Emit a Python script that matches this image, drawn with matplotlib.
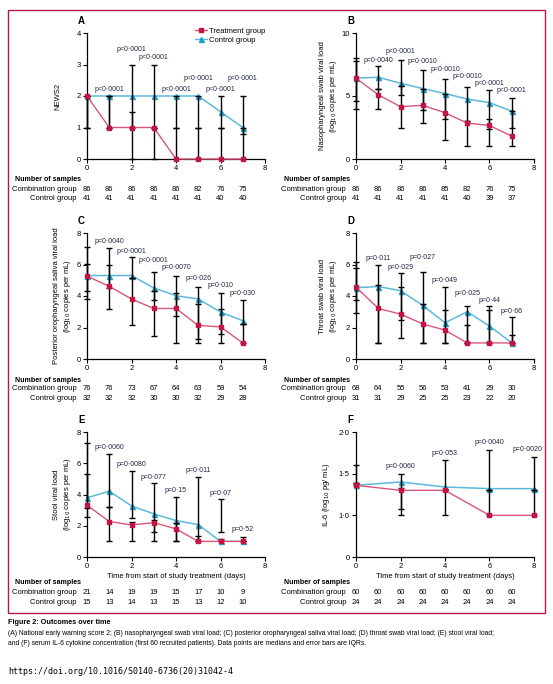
import matplotlib
matplotlib.use("Agg")
import matplotlib.pyplot as plt
from matplotlib.lines import Line2D
from matplotlib.patches import Rectangle
from matplotlib.transforms import blended_transform_factory

plt.rcParams['font.family'] = ['Liberation Sans Narrow', 'Liberation Sans', 'DejaVu Sans']
plt.rcParams['font.size'] = 5.5

W, H = 553, 684
RED, RED_LINE = '#c41442', '#d9557a'
CYAN, CYAN_LINE = '#1fa0c8', '#5cb9dc'
PCOL = '#1f2640'

days = [0, 1, 2, 3, 4, 5, 6, 7]
il6_days = [0, 2, 4, 6, 8]

# A: NEWS2
a_t_med = [2, 1, 1, 1, 0, 0, 0, 0]
a_t_lo = [1, 1, 0, 0, 0, 0, 0, 0]
a_t_hi = [2, 2, 1.5, 1, 1, 1, 1, 1]
a_c_med = [2, 2, 2, 2, 2, 2, 1.5, 1]
a_c_lo = [1, 1, 1, 1, 1, 1, 1, 0.8]
a_c_hi = [2, 2, 3, 3, 2, 2, 2, 2]
a_p = ['p<0·0001'] * 7
a_comb = [86, 86, 86, 86, 86, 82, 76, 75]
a_ctrl = [41, 41, 41, 41, 41, 41, 40, 40]

# B: nasopharyngeal swab
b_t_med = [6.41, 5.10, 4.15, 4.26, 3.67, 2.85, 2.66, 1.81]
b_t_lo = [3.99, 3.99, 2.50, 2.82, 1.54, 1.06, 1.06, 1.06]
b_t_hi = [7.74, 5.59, 5.77, 5.59, 5.19, 3.03, 3.14, 3.83]
b_c_med = [6.41, 6.49, 6.01, 5.59, 5.19, 4.76, 4.47, 3.80]
b_c_lo = [4.57, 5.59, 5.11, 3.86, 3.19, 3.03, 2.39, 2.45]
b_c_hi = [8.00, 7.42, 7.82, 7.05, 6.33, 5.69, 5.45, 4.87]
b_p = ['p=0·0040', 'p<0·0001', 'p=0·0010', 'p=0·0010', 'p=0·0010', 'p<0·0001', 'p<0·0001']
b_comb = [86, 86, 86, 86, 85, 82, 76, 75]
b_ctrl = [41, 41, 41, 41, 41, 40, 39, 37]

# C: posterior oropharyngeal saliva
c_t_med = [5.26, 4.62, 3.81, 3.21, 3.21, 2.13, 2.04, 1.02]
c_t_lo = [3.81, 3.17, 2.13, 1.45, 1.02, 1.02, 1.02, 1.02]
c_t_hi = [6.02, 5.96, 5.13, 4.32, 4.17, 3.51, 3.15, 2.21]
c_c_med = [5.30, 5.30, 5.30, 4.51, 4.02, 3.81, 2.98, 2.43]
c_c_lo = [4.30, 4.51, 5.13, 3.72, 2.70, 1.30, 1.60, 2.21]
c_c_hi = [7.09, 7.02, 6.45, 5.51, 5.30, 4.60, 4.21, 3.72]
c_p = ['p=0·0040', 'p<0·0001', 'p<0·0001', 'p=0·0070', 'p=0·026', 'p=0·010', 'p=0·030']
c_comb = [76, 76, 73, 67, 64, 63, 59, 54]
c_ctrl = [32, 32, 32, 30, 30, 32, 29, 28]

# D: throat swab
d_t_med = [4.57, 3.21, 2.85, 2.23, 1.83, 1.02, 1.02, 1.02]
d_t_lo = [2.89, 1.02, 1.36, 1.02, 1.02, 1.02, 1.02, 1.02]
d_t_hi = [5.77, 4.72, 4.55, 3.51, 3.11, 2.13, 3.11, 1.53]
d_c_med = [4.53, 4.60, 4.34, 3.40, 2.30, 3.00, 2.09, 1.02]
d_c_lo = [3.74, 1.02, 2.47, 1.02, 1.02, 1.02, 1.02, 1.02]
d_c_hi = [6.15, 5.94, 5.43, 5.51, 4.55, 3.38, 3.34, 2.64]
d_p = ['p=0·011', 'p=0·029', 'p=0·027', 'p=0·049', 'p=0·025', 'p=0·44', 'p=0·66']
d_comb = [68, 64, 55, 56, 53, 41, 29, 30]
d_ctrl = [31, 31, 29, 25, 25, 23, 22, 20]

# E: stool
e_t_med = [3.32, 2.27, 2.05, 2.20, 1.80, 1.00, 1.00, 1.00]
e_t_lo = [3.12, 1.00, 1.00, 1.00, 1.00, 1.00, 1.00, 1.00]
e_t_hi = [5.33, 3.19, 2.27, 2.37, 2.20, 1.33, 1.13, 1.00]
e_c_med = [3.79, 4.21, 3.27, 2.76, 2.33, 2.07, 1.00, 1.00]
e_c_lo = [2.59, 3.19, 2.52, 1.60, 1.00, 1.00, 1.60, 1.00]
e_c_hi = [7.29, 6.59, 5.48, 4.73, 3.87, 5.11, 3.70, 1.26]
e_p = ['p=0·0060', 'p=0·0080', 'p=0·077', 'p=0·15', 'p=0·011', 'p=0·07', 'p=0·52']
e_comb = [21, 14, 19, 19, 15, 17, 10, 9]
e_ctrl = [15, 13, 14, 13, 15, 13, 12, 10]

# F: IL-6
f_t_med = [1.36, 1.30, 1.30, 1.00, 1.00]
f_t_lo = [1.36, 1.00, 1.00, 1.00, 1.00]
f_t_hi = [1.39, 1.33, 1.30, 1.30, 1.30]
f_c_med = [1.36, 1.40, 1.34, 1.32, 1.32]
f_c_lo = [1.39, 1.08, 1.30, 1.30, 1.30]
f_c_hi = [1.61, 1.50, 1.66, 1.79, 1.70]
f_p = ['p=0·0060', 'p=0·053', 'p=0·0040', 'p=0·0020']
f_comb = [60] * 8
f_ctrl = [24] * 8

fig = plt.figure(figsize=(W / 100, H / 100), dpi=100)


def panel(box, letter, x, t_med, t_lo, t_hi, c_med, c_lo, c_hi, ylim, yticks, ylabel,
          ylab_x, pvals, p_x, p_y, comb, ctrl, yticklabels=None, xlabel=False, legend=False):
    l, t, w, h = box
    ax = fig.add_axes([l / W, 1 - (t + h) / H, w / W, h / H])
    ax.plot(x, c_med, color=CYAN_LINE, lw=1.1, zorder=2, clip_on=False)
    ax.plot(x, c_med, ls='none', marker='^', ms=3.6, color=CYAN, zorder=2, clip_on=False)
    for lo, hi in [(t_lo, t_hi), (c_lo, c_hi)]:
        ax.vlines(x, lo, hi, color='black', lw=1, zorder=3, clip_on=False)
        ax.plot(x, lo, ls='none', marker='_', ms=5, mew=1, color='black', zorder=3, clip_on=False)
        ax.plot(x, hi, ls='none', marker='_', ms=5, mew=1, color='black', zorder=3, clip_on=False)
    ax.plot(x, t_med, color=RED_LINE, lw=1.0, zorder=4, clip_on=False)
    ax.plot(x, t_med, ls='none', marker='s', ms=3.4, color=RED, zorder=5, clip_on=False)

    if legend:
        hs = [Line2D([], [], color=RED_LINE, lw=1, marker='s', ms=3.4, mfc=RED, mec=RED),
              Line2D([], [], color=CYAN_LINE, lw=1, marker='^', ms=3.6, mfc=CYAN, mec=CYAN)]
        ax.legend(hs, ['Treatment group', 'Control group'], loc='upper right',
                  bbox_to_anchor=(1.02, 1.07), frameon=False, fontsize=5.5,
                  handlelength=1.6, handletextpad=0.3, labelspacing=0.25, borderaxespad=0)

    for s, px, py in zip(pvals, p_x, p_y):
        ax.text(px, py, s, ha='center', va='center', fontsize=5, color=PCOL, zorder=6)

    ax.set_xlim(0, 8)
    ax.set_ylim(*ylim)
    ax.set_xticks([0, 2, 4, 6, 8])
    ax.set_yticks(yticks)
    if yticklabels:
        ax.set_yticklabels(yticklabels)
    for sp in ['top', 'right']:
        ax.spines[sp].set_visible(False)
    for sp in ['left', 'bottom']:
        ax.spines[sp].set_linewidth(0.9)
    ax.tick_params(length=3, width=0.8, labelsize=5.5, pad=1.5)

    fig.text(ylab_x / W, 1 - (t + h / 2) / H, ylabel, rotation=90, ha='center', va='center',
             fontsize=5.5, linespacing=1.15)
    fig.text((l - 9) / W, 1 - (t - 12) / H, letter, fontsize=7, weight='bold', ha='left', va='center')

    b = t + h
    if xlabel:
        fig.text((l + w / 2) / W, 1 - (b + 20) / H, 'Time from start of study treatment (days)',
                 ha='center', va='center', fontsize=5.5)
        rows = [b + 26, b + 35.5, b + 45]
    else:
        rows = [b + 21, b + 30, b + 39.5]
    fig.text((l - 72) / W, 1 - rows[0] / H, 'Number of samples', weight='bold', ha='left',
             va='center', fontsize=5.1)
    fig.text((l - 10) / W, 1 - rows[1] / H, 'Combination group', ha='right', va='center', fontsize=5.5)
    fig.text((l - 10) / W, 1 - rows[2] / H, 'Control group', ha='right', va='center', fontsize=5.5)
    tr = blended_transform_factory(ax.transData, fig.transFigure)
    for i, (n1, n2) in enumerate(zip(comb, ctrl)):
        ax.text(days[i], 1 - rows[1] / H, str(n1), transform=tr, ha='center', va='center', fontsize=5.5)
        ax.text(days[i], 1 - rows[2] / H, str(n2), transform=tr, ha='center', va='center', fontsize=5.5)
    return ax


lab = '(log$_{10}$ copies per mL)'
panel((87, 33, 178, 126), 'A', days, a_t_med, a_t_lo, a_t_hi, a_c_med, a_c_lo, a_c_hi,
      (0, 4), [0, 1, 2, 3, 4], 'NEWS2', 58, a_p, [1, 2, 3, 4, 5, 6, 7],
      [2.22, 3.47, 3.23, 2.22, 2.54, 2.22, 2.54], a_comb, a_ctrl, legend=True)
panel((356, 33, 178, 126), 'B', days, b_t_med, b_t_lo, b_t_hi, b_c_med, b_c_lo, b_c_hi,
      (0, 10), [0, 5, 10], 'Nasopharyngeal swab viral load\n' + lab, 329, b_p,
      [1, 2, 3, 4, 5, 6, 7], [7.85, 8.5, 7.7, 7.13, 6.54, 5.98, 5.45], b_comb, b_ctrl)
panel((87, 233, 178, 126), 'C', days, c_t_med, c_t_lo, c_t_hi, c_c_med, c_c_lo, c_c_hi,
      (0, 8), [0, 2, 4, 6, 8], 'Posterior oropharyngeal saliva viral load\n' + lab, 63, c_p,
      [1, 2, 3, 4, 5, 6, 7], [7.47, 6.83, 6.28, 5.81, 5.1, 4.66, 4.17], c_comb, c_ctrl)
panel((356, 233, 178, 126), 'D', days, d_t_med, d_t_lo, d_t_hi, d_c_med, d_c_lo, d_c_hi,
      (0, 8), [0, 2, 4, 6, 8], 'Throat swab viral load\n' + lab, 329, d_p,
      [1, 2, 3, 4, 5, 6, 7], [6.38, 5.79, 6.47, 4.98, 4.13, 3.7, 3.0], d_comb, d_ctrl)
panel((87, 432, 178, 125), 'E', days, e_t_med, e_t_lo, e_t_hi, e_c_med, e_c_lo, e_c_hi,
      (0, 8), [0, 2, 4, 6, 8], 'Stool viral load\n' + lab, 63, e_p,
      [1, 2, 3, 4, 5, 6, 7], [7.04, 5.93, 5.11, 4.26, 5.52, 4.09, 1.78], e_comb, e_ctrl, xlabel=True)
panel((356, 432, 178, 125), 'F', il6_days, f_t_med, f_t_lo, f_t_hi, f_c_med, f_c_lo, f_c_hi,
      (0.5, 2.0), [0.5, 1.0, 1.5, 2.0], 'IL-6 (log$_{10}$ pg/ mL)', 327, f_p,
      [2, 4, 6, 7.7], [1.586, 1.74, 1.88, 1.79], f_comb, f_ctrl,
      yticklabels=['0', '1·0', '1·5', '2·0'], xlabel=True)

fig.add_artist(Rectangle((8 / W, 1 - 613 / H), 537 / W, 603 / H, fill=False, ec='#b8174a',
                         lw=1, transform=fig.transFigure))

fig.text(8 / W, 1 - 623 / H, 'Figure 2: Outcomes over time', weight='bold', fontsize=5.2, va='center')
fig.text(8 / W, 1 - 633.5 / H,
         '(A) National early warning score 2; (B) nasopharyngeal swab viral load; (C) posterior '
         'oropharyngeal saliva viral load; (D) throat swab viral load; (E) stool viral load;',
         fontsize=4.85, va='center')
fig.text(8 / W, 1 - 643.5 / H,
         'and (F) serum IL-6 cytokine concentration (first 60 recruited patients). Data points are '
         'medians and error bars are IQRs.', fontsize=4.85, va='center')
fig.text(8 / W, 1 - 671 / H, 'https://doi.org/10.1016/S0140-6736(20)31042-4',
         family='DejaVu Sans Mono', fontsize=6, va='center')

fig.savefig('out.png', dpi=100)
